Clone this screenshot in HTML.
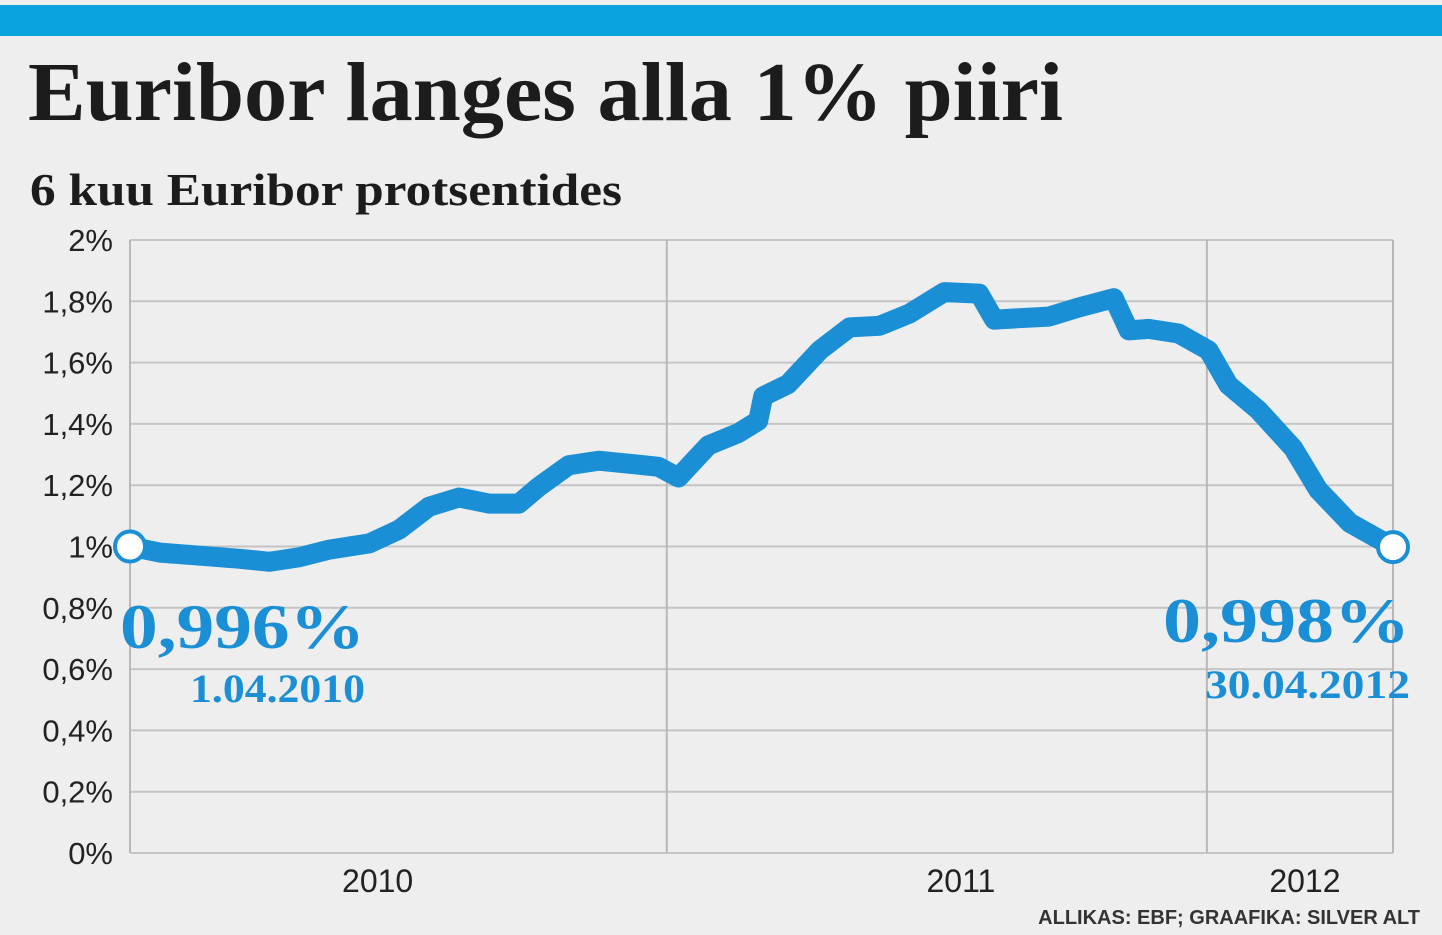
<!DOCTYPE html>
<html><head><meta charset="utf-8"><style>
body{margin:0;background:#eeeeef;}
svg{display:block}
</style></head><body>
<svg width="1442" height="935" xmlns="http://www.w3.org/2000/svg">
<rect width="1442" height="935" fill="#eeeeef"/>
<rect x="0" y="5" width="1442" height="31" fill="#0aa3e0"/>
<text x="28" y="120" font-family="Liberation Serif, serif" font-weight="bold" font-size="84" fill="#1c1c1c" textLength="1035" lengthAdjust="spacingAndGlyphs">Euribor langes alla 1% piiri</text>
<text x="30" y="205" font-family="Liberation Serif, serif" font-weight="bold" font-size="46" fill="#1c1c1c" textLength="592" lengthAdjust="spacingAndGlyphs">6 kuu Euribor protsentides</text>
<g id="grid"></g>
<g id="yticks"></g>
<g id="xticks"></g>
<path id="line" fill="none" stroke="#1a8fd6" stroke-width="20" stroke-linejoin="round" stroke-linecap="round"/>
<circle id="startPt" r="15" fill="#fff" stroke="#1a8fd6" stroke-width="4"/>
<circle id="endPt" r="15" fill="#fff" stroke="#1a8fd6" stroke-width="4"/>
<text x="120" y="648" font-family="Liberation Serif, serif" font-weight="bold" font-size="64" fill="#1a8fd6" textLength="245" lengthAdjust="spacingAndGlyphs">0,996%</text>
<text x="190" y="702" font-family="Liberation Serif, serif" font-weight="bold" font-size="40" fill="#1a8fd6" textLength="175" lengthAdjust="spacingAndGlyphs">1.04.2010</text>
<text x="1163" y="642" font-family="Liberation Serif, serif" font-weight="bold" font-size="64" fill="#1a8fd6" textLength="247" lengthAdjust="spacingAndGlyphs">0,998%</text>
<text x="1205" y="698" font-family="Liberation Serif, serif" font-weight="bold" font-size="40" fill="#1a8fd6" textLength="205" lengthAdjust="spacingAndGlyphs">30.04.2012</text>
<text x="1420" y="924" text-anchor="end" font-family="Liberation Sans, sans-serif" font-weight="bold" font-size="20" fill="#333">ALLIKAS: EBF; GRAAFIKA: SILVER ALT</text>
</svg>
<script>
const days=[0,18,42,66,84,102,120,144,162,180,198,216,234,246,264,282,300,318,330,348,366,378,381,396,415,433,451,469,490,511,520,535,553,571,592,601,613,631,649,661,679,700,715,734,760];
const rates=[1.00,0.98,0.97,0.96,0.95,0.965,0.99,1.01,1.055,1.13,1.16,1.14,1.14,1.195,1.265,1.28,1.27,1.26,1.225,1.33,1.37,1.41,1.49,1.53,1.64,1.715,1.72,1.76,1.83,1.825,1.74,1.745,1.75,1.78,1.81,1.705,1.71,1.695,1.64,1.527,1.445,1.32,1.185,1.077,0.998];
const yTicks=[0,0.2,0.4,0.6,0.8,1,1.2,1.4,1.6,1.8,2];
const yTickLabels=["0%","0,2%","0,4%","0,6%","0,8%","1%","1,2%","1,4%","1,6%","1,8%","2%"];
const yearLabels=["2010","2011","2012"];
const yearLabelDays=[149,500,707];
const yearLineDays=[0,323,648,760];
const NS="http://www.w3.org/2000/svg";
const X0=130,X1=1393,Y0=853,Y1=240,DMAX=760,VMAX=2;
const x=d=>X0+(d/DMAX)*(X1-X0);
const y=v=>Y0-(v/VMAX)*(Y0-Y1);
const grid=document.getElementById('grid');
yTicks.forEach((t,i)=>{
 const l=document.createElementNS(NS,'line');
 l.setAttribute('x1',X0);l.setAttribute('x2',X1);l.setAttribute('y1',y(t));l.setAttribute('y2',y(t));
 l.setAttribute('stroke','#c4c4c4');l.setAttribute('stroke-width','2');
 
 
 grid.appendChild(l);
 const tx=document.createElementNS(NS,'text');
 tx.setAttribute('x',113);tx.setAttribute('y',y(t)+11);tx.setAttribute('text-anchor','end');
 tx.setAttribute('font-family','Liberation Sans, sans-serif');tx.setAttribute('font-size','31');tx.setAttribute('fill','#222');
 tx.textContent=yTickLabels[i];
 
 
 document.getElementById('yticks').appendChild(tx);
});
yearLineDays.forEach(d=>{
 const l=document.createElementNS(NS,'line');
 l.setAttribute('x1',x(d));l.setAttribute('x2',x(d));l.setAttribute('y1',Y1);l.setAttribute('y2',Y0);
 l.setAttribute('stroke','#b8b8b8');l.setAttribute('stroke-width','2');
 
 
 grid.appendChild(l);
});
yearLabels.forEach((s,i)=>{
 const tx=document.createElementNS(NS,'text');
 tx.setAttribute('x',x(yearLabelDays[i]));tx.setAttribute('y',892);tx.setAttribute('text-anchor','middle');
 tx.setAttribute('font-family','Liberation Sans, sans-serif');tx.setAttribute('font-size','32');tx.setAttribute('fill','#222');
 tx.textContent=s;
 
 
 document.getElementById('xticks').appendChild(tx);
});
document.getElementById('line').setAttribute('d',days.map((d,i)=>(i?'L':'M')+x(d).toFixed(1)+' '+y(rates[i]).toFixed(1)).join(' '));
const s=document.getElementById('startPt'),e=document.getElementById('endPt');
s.setAttribute('cx',x(days[0]));s.setAttribute('cy',y(rates[0]));
e.setAttribute('cx',x(days[days.length-1]));e.setAttribute('cy',y(rates[rates.length-1]));
</script>
</body></html>
